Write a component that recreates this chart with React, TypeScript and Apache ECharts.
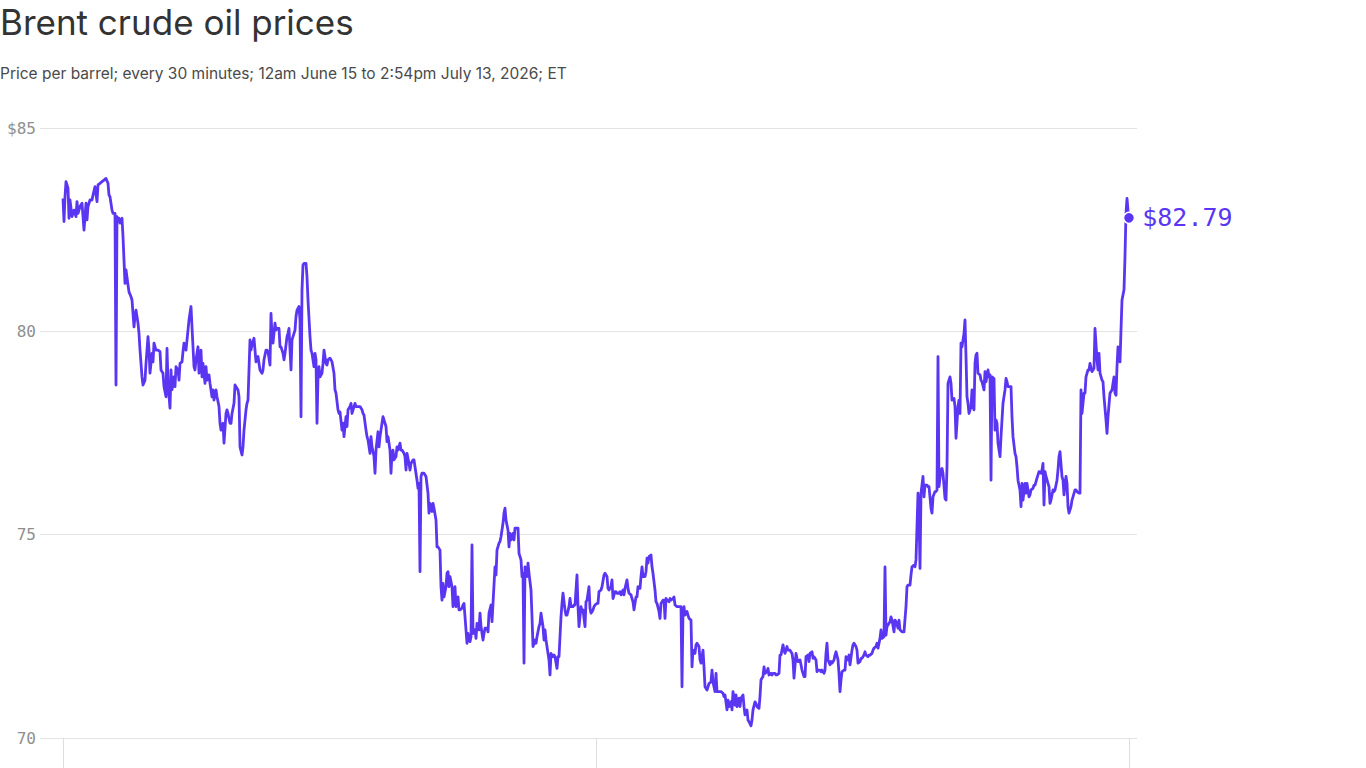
import React, { useEffect, useRef } from "react";
import * as echarts from "echarts";

const TITLE = "Brent crude oil prices";
const SUBTITLE = "Price per barrel; every 30 minutes; 12am June 15 to 2:54pm July 13, 2026; ET";

// x = index of the 30-minute trading bar, y = price in USD per barrel
const pricesPart1: [number, number][] = [
  [0,83.27],[1,82.70],[2,83.31],[3,83.68],[5,83.52],[6,82.78],[7,83.23],[9,82.82],[11,82.98],[13,82.82],
  [14,83.19],[15,82.90],[17,83.07],[19,83.15],[20,82.82],[21,82.49],[23,83.15],[24,82.74],[25,83.07],[27,83.23],
  [29,83.23],[30,83.35],[32,83.56],[34,83.19],[35,83.60],[37,83.64],[39,83.68],[41,83.72],[43,83.76],[45,83.64],
  [46,83.35],[47,83.31],[49,82.98],[50,82.90],[52,82.90],[53,78.68],[54,82.82],[55,82.74],[56,82.78],[57,82.66],
  [59,82.78],[60,82.33],[61,81.75],[62,81.18],[63,81.51],[65,81.14],[66,80.97],[68,80.85],[69,80.77],[71,80.11],
  [72,80.36],[73,80.52],[75,80.20],[76,79.95],[77,79.54],[79,78.88],[80,78.68],[82,78.80],[83,79.21],[85,79.87],
  [86,79.54],[87,78.97],[89,79.46],[90,79.25],[91,79.71],[93,79.54],[95,79.54],[97,79.50],[98,79.05],[100,78.97],
  [101,78.64],[103,78.39],[104,79.58],[105,78.72],[107,78.11],[108,79.05],[109,78.56],[111,78.88],[112,78.64],[113,79.13],
  [115,79.05],[116,78.80],[117,79.21],[119,79.25],[120,79.50],[121,79.71],[123,79.54],[125,80.03],[126,80.28],[128,80.61],
  [129,80.11],[130,79.62],[131,79.13],[132,79.05],[133,79.30],[135,79.62],[136,78.97],[138,79.54],[139,78.88],[140,79.21],
  [142,78.72],[143,79.13],[144,78.80],[146,78.93],[147,78.72],[149,78.39],[150,78.56],[151,78.31],[153,78.56],[154,78.39],
  [156,78.15],[157,77.74],[158,77.57],[160,77.74],[161,77.25],[163,77.98],[164,78.07],[165,77.98],[167,77.74],[168,77.74],
  [169,77.98],[171,78.23]
];

const pricesPart2: [number, number][] = [
  [172,78.68],[175,78.56],[176,78.39],[177,77.16],[179,76.96],[180,77.16],[181,77.57],[183,78.07],[184,78.23],[185,78.31],
  [187,79.79],[188,79.54],[189,79.66],[191,79.83],[192,79.54],[193,79.25],[195,79.38],[196,79.21],[197,79.05],[199,78.97],
  [200,79.05],[201,79.30],[203,79.54],[204,79.54],[205,79.50],[207,79.17],[208,80.44],[209,79.87],[210,79.71],[212,80.20],
  [213,80.03],[214,80.07],[216,80.07],[217,79.62],[218,79.62],[220,79.46],[221,79.30],[222,79.46],[224,79.87],[225,79.95],
  [226,80.07],[228,79.05],[229,79.79],[230,79.87],[232,80.03],[233,80.36],[234,80.52],[236,80.61],[237,80.28],[238,77.90],
  [239,81.02],[240,81.63],[241,81.67],[243,81.67],[244,81.34],[245,80.77],[247,79.87],[248,79.54],[249,79.46],[251,79.13],
  [252,79.46],[253,79.30],[254,77.74],[255,78.88],[256,79.13],[257,78.88],[259,78.97],[260,79.21],[261,79.54],[263,79.21],
  [264,79.17],[265,79.30],[267,79.34],[268,79.30],[269,79.25],[271,78.97],[272,78.56],[273,78.48],[275,78.07],[276,77.98],
  [277,78.02],[279,77.57],[280,77.74],[281,77.41],[283,77.90],[284,77.66],[285,78.07],[287,78.15],[288,78.23],[289,77.98],
  [291,78.15],[292,78.23],[293,78.15],[295,78.15],[296,78.15],[297,78.15],[299,78.07],[300,77.98],[301,77.94],[303,77.57],
  [304,77.41],[305,77.33],[307,77.00],[308,77.41],[309,77.16],[311,76.92],[312,76.51],[313,77.08],[315,77.53],[316,77.16],
  [317,77.41],[319,77.74],[320,77.90],[321,77.82],[323,77.66],[324,77.29],[325,77.41],[327,77.08],[328,76.51],[329,77.00],
  [330,77.08],[331,76.84],[333,76.92],[334,77.16],[335,77.08],[337,77.25],[338,77.08],[339,77.08],[341,77.00],[342,76.92],
  [343,76.59],[344,77.00],[346,76.75],[347,76.59],[348,76.75],[350,76.84],[351,76.84],[352,76.67],[354,76.34],[355,76.14]
];

const pricesPart3: [number, number][] = [
  [356,76.26],[357,74.09],[358,76.43],[359,76.51],[361,76.51],[363,76.43],[365,76.02],[366,75.53],[367,75.77],[369,75.57],
  [370,75.77],[371,75.65],[373,75.36],[374,74.70],[375,74.70],[377,74.62],[378,73.72],[379,73.39],[380,73.80],[381,73.47],
  [383,73.72],[384,74.05],[385,74.09],[386,73.72],[387,73.97],[389,73.72],[390,73.23],[391,73.47],[392,73.72],[393,73.23],
  [395,73.47],[396,73.15],[397,73.15],[399,73.19],[400,73.27],[401,73.31],[403,72.66],[404,72.33],[405,72.57],[407,72.37],
  [408,72.49],[409,74.75],[410,72.57],[412,72.66],[413,72.45],[414,72.82],[416,72.66],[417,73.07],[418,72.74],[420,72.41],
  [421,72.57],[422,72.70],[424,72.70],[425,72.61],[426,73.07],[428,73.27],[429,72.86],[430,73.31],[432,74.21],[433,74.01],
  [434,74.62],[436,74.79],[437,74.83],[438,74.95],[440,75.28],[441,75.53],[442,75.65],[443,75.36],[445,75.11],[446,74.70],
  [447,75.03],[448,74.87],[450,75.03],[451,74.87],[452,75.16],[454,75.16],[455,75.16],[456,74.54],[458,74.38],[459,73.97],
  [460,74.05],[461,71.84],[462,74.21],[464,73.97],[465,74.30],[466,74.05],[468,73.64],[469,72.98],[470,72.25],[472,72.41],
  [473,72.33],[474,72.49],[476,72.74],[477,72.82],[478,73.07],[480,72.74],[481,72.41],[482,72.66],[483,72.41],[485,72.08],
  [486,71.92],[487,71.55],[488,72.08],[490,72.00],[491,72.04],[492,72.00],[494,71.71],[495,72.00],[496,72.00],[498,72.98],
  [499,73.31],[500,73.56],[502,73.15],[503,73.02],[504,73.02],[506,73.23],[507,73.43],[508,73.23],[510,73.23],[511,73.27],
  [512,73.27],[514,74.01],[515,73.23],[516,72.74],[518,73.23],[519,73.11],[520,73.15],[522,72.74],[523,73.35],[524,73.39],
  [526,73.72],[527,73.19],[528,73.07],[530,73.15],[531,73.23],[532,73.27],[534,73.31],[535,73.31],[536,73.60],[538,73.64],
  [539,73.72]
];

const pricesPart4: [number, number][] = [
  [541,74.01],[542,74.05],[544,73.97],[545,73.68],[546,73.64],[548,73.72],[549,73.89],[550,73.43],[552,73.60],[553,73.60],
  [554,73.56],[556,73.56],[557,73.60],[558,73.52],[560,73.64],[561,73.52],[562,73.68],[564,73.89],[565,73.68],[566,73.56],
  [568,73.52],[569,73.43],[570,73.35],[571,73.15],[573,73.47],[574,73.47],[575,73.72],[577,73.68],[578,73.97],[579,74.21],
  [580,73.97],[582,73.97],[583,74.09],[584,74.42],[585,74.30],[586,74.46],[588,74.50],[589,74.21],[590,74.05],[592,73.64],
  [593,73.35],[594,73.31],[596,73.11],[597,72.94],[598,73.31],[600,73.39],[601,73.39],[602,72.94],[603,73.43],[604,73.39],
  [606,73.35],[607,73.43],[608,73.39],[610,73.43],[611,73.47],[612,73.27],[614,73.23],[615,73.23],[616,73.23],[618,73.23],
  [619,71.26],[620,73.15],[621,73.23],[622,73.02],[624,73.11],[625,73.02],[626,72.94],[628,72.90],[629,71.75],[630,72.16],
  [632,72.08],[633,72.29],[634,72.33],[636,72.25],[637,71.92],[638,71.84],[640,72.16],[641,71.75],[642,71.26],[644,71.18],
  [645,71.26],[646,71.34],[648,71.38],[649,71.67],[650,71.38],[652,71.14],[653,71.59],[654,71.14],[656,71.14],[657,71.14],
  [658,71.14],[660,71.10],[661,71.02],[662,71.06],[664,70.69],[665,70.93],[666,70.77],[668,70.89],[669,70.69],[670,71.14],
  [672,70.81],[673,71.06],[674,70.77],[676,70.98],[677,70.77],[678,70.98],[680,71.06],[681,70.77],[682,70.57],[684,70.69],
  [685,70.44],[686,70.40],[688,70.30],[689,70.44],[690,70.69],[692,70.89],[693,70.85],[694,70.77],[696,70.73],[697,71.02],
  [698,71.43],[700,71.51],[701,71.75],[702,71.59],[704,71.63],[705,71.71],[706,71.55],[708,71.59],[709,71.55],[710,71.59],
  [712,71.59],[713,71.55],[714,71.55],[716,71.59],[717,72.04],[718,72.04],[720,72.29],[721,72.16],[722,72.08],[724,72.25],
  [725,72.16]
];

const pricesPart5: [number, number][] = [
  [727,72.16],[729,72.08],[730,71.92],[731,71.47],[733,72.08],[734,71.96],[735,71.88],[737,71.92],[738,71.80],[739,71.67],
  [741,71.51],[742,71.51],[743,72.00],[745,72.04],[746,71.88],[747,72.08],[749,72.12],[750,71.96],[751,72.00],[753,71.92],
  [754,71.63],[755,71.67],[757,71.67],[758,71.63],[759,71.67],[761,71.59],[762,71.67],[763,72.08],[764,72.33],[765,71.92],
  [767,71.80],[768,71.88],[769,71.84],[771,71.92],[772,72.04],[773,72.12],[775,71.92],[776,71.59],[777,71.14],[778,71.43],
  [779,71.63],[781,71.67],[782,71.67],[783,72.00],[785,71.92],[786,72.04],[787,71.80],[789,72.16],[790,72.29],[791,72.33],
  [793,72.25],[794,72.16],[795,71.84],[797,71.88],[798,71.96],[799,71.96],[801,72.04],[802,72.12],[803,72.04],[805,72.00],
  [806,72.04],[807,72.04],[809,72.08],[810,72.16],[811,72.21],[813,72.25],[814,72.33],[815,72.21],[817,72.45],[818,72.66],
  [819,72.45],[821,72.49],[822,74.21],[823,72.53],[824,72.74],[825,72.78],[827,72.86],[828,72.98],[829,72.90],[831,72.61],
  [832,72.90],[833,72.86],[835,72.70],[836,72.90],[837,72.66],[839,72.61],[840,72.61],[841,72.61],[843,73.23],[844,73.72],
  [845,73.76],[847,73.76],[848,74.01],[849,74.21],[851,74.25],[852,74.21],[853,74.38],[855,76.02],[856,75.53],[857,74.17],
  [858,76.02],[860,76.43],[861,75.93],[862,76.22],[864,76.22],[865,76.18],[866,76.18],[868,75.65],[869,75.53],[870,75.93],
  [872,76.06],[873,76.06],[874,76.10],[875,79.38],[876,76.18],[878,76.59],[879,76.63],[880,76.51],[882,75.89],[883,75.85],
  [884,76.67],[885,78.72],[887,78.88],[888,78.72],[889,78.31],[891,78.35],[892,78.15],[893,77.37],[895,78.15],[896,78.31],
  [897,77.98],[898,79.71],[899,79.62],[901,79.95],[902,80.28]
];

const pricesPart6: [number, number][] = [
  [903,79.38],[904,78.39],[905,78.23],[906,77.98],[908,78.15],[909,78.56],[910,78.15],[911,78.07],[912,79.21],[913,79.42],
  [914,79.46],[915,78.97],[917,78.93],[918,78.80],[919,78.76],[921,78.56],[922,79.01],[923,78.76],[925,79.05],[926,78.88],
  [927,78.93],[928,76.34],[929,78.88],[931,78.84],[932,77.57],[933,77.82],[934,77.74],[935,77.25],[937,76.92],[938,77.41],
  [939,77.82],[940,78.23],[942,78.56],[943,78.84],[944,78.76],[945,78.64],[947,78.64],[948,78.64],[949,77.90],[950,77.41],
  [952,77.00],[953,76.92],[954,76.67],[955,76.34],[957,76.10],[958,75.69],[959,76.26],[960,75.85],[962,76.26],[963,76.02],
  [964,76.26],[966,75.93],[967,75.98],[968,76.10],[970,76.14],[971,76.22],[972,76.22],[974,76.39],[975,76.47],[976,76.55],
  [978,76.51],[979,76.59],[980,76.75],[981,75.73],[982,76.55],[983,76.43],[985,76.26],[986,76.18],[987,75.77],[988,75.85],
  [990,76.10],[991,76.06],[992,76.10],[994,76.34],[995,76.59],[996,76.92],[997,77.04],[999,76.43],[1000,76.34],[1001,75.98],
  [1003,76.43],[1004,76.26],[1005,75.69],[1006,75.53],[1008,75.69],[1009,75.85],[1010,75.93],[1012,76.10],[1013,76.10],[1014,76.06],
  [1016,76.02],[1017,76.02],[1018,78.56],[1019,77.98],[1021,78.48],[1022,78.48],[1023,78.88],[1025,79.05],[1026,79.05],[1027,79.21],
  [1029,79.01],[1030,79.05],[1031,79.09],[1032,80.07],[1034,79.30],[1035,79.05],[1036,79.46],[1037,78.97],[1039,78.80],[1040,78.76],
  [1041,78.39],[1043,77.82],[1044,77.49],[1045,77.90],[1047,78.48],[1048,78.52],[1049,78.56],[1051,78.88],[1052,78.48],[1053,78.43],
  [1054,79.13],[1055,79.62],[1057,79.25],[1058,80.03],[1059,80.77],[1061,81.02],[1062,81.84],[1063,82.90],[1064,83.27],[1065,82.98],
  [1066,82.79]
];

// first, middle and last bar get a tick mark on the time axis
const xTickSteps = [0, 533, 1066];
const yTicks = [70, 75, 80, 85];

const LINE_COLOR = "#5b36f2";
const MONO = "'DejaVu Sans Mono', monospace";
const SANS = "Inter, 'Liberation Sans', sans-serif";

export default function App() {
  const ref = useRef<HTMLDivElement>(null);

  useEffect(() => {
    if (!ref.current) return;
    const chart = echarts.init(ref.current, null, { renderer: "svg" });
    const all = [
      ...pricesPart1,
      ...pricesPart2,
      ...pricesPart3,
      ...pricesPart4,
      ...pricesPart5,
      ...pricesPart6,
    ];
    const last = all[all.length - 1];

    chart.setOption({
      animation: false,
      backgroundColor: "#ffffff",
      title: [
        {
          text: TITLE,
          left: 0,
          top: 3,
          padding: 0,
          textStyle: {
            fontFamily: SANS,
            fontSize: 35,
            fontWeight: "normal",
            color: "#333333",
            lineHeight: 38,
          },
        },
        {
          text: SUBTITLE,
          left: 0,
          top: 64,
          padding: 0,
          textStyle: {
            fontFamily: SANS,
            fontSize: 15.5,
            fontWeight: "normal",
            color: "#4a4a4a",
            lineHeight: 18,
          },
        },
      ],
      grid: { left: 40, right: 229, top: 128, bottom: 30, containLabel: false },
      xAxis: {
        type: "value",
        min: -23,
        max: 1074,
        axisLine: { show: false },
        splitLine: { show: false },
        axisLabel: { show: false },
        axisTick: {
          show: true,
          customValues: xTickSteps,
          length: 30,
          lineStyle: { color: "#dddddd", width: 1 },
        },
      },
      yAxis: {
        type: "value",
        min: yTicks[0],
        max: yTicks[yTicks.length - 1],
        interval: 5,
        axisLine: { show: false },
        axisTick: { show: false },
        splitLine: { lineStyle: { color: "#e3e3e3", width: 1 } },
        axisLabel: {
          margin: 4,
          color: "#8f8f8f",
          fontFamily: MONO,
          fontSize: 16,
          formatter: (v: number) => (v === yTicks[yTicks.length - 1] ? `$${v}` : `${v}`),
        },
      },
      series: [
        {
          type: "line",
          data: all,
          showSymbol: false,
          symbol: "none",
          lineStyle: { color: LINE_COLOR, width: 2.8, join: "round" },
          z: 3,
        },
        {
          type: "scatter",
          data: [last],
          symbolSize: 11,
          itemStyle: { color: LINE_COLOR, opacity: 1, borderColor: "#ffffff", borderWidth: 1.5 },
          z: 4,
          label: {
            show: true,
            position: "right",
            distance: 7,
            color: LINE_COLOR,
            fontFamily: MONO,
            fontSize: 25,
            formatter: () => `$${last[1].toFixed(2)}`,
          },
        },
      ],
    });

    return () => chart.dispose();
  }, []);

  return (
    <div
      ref={ref}
      style={{ position: "fixed", left: 0, top: 0, width: 1366, height: 768, background: "#fff" }}
    />
  );
}
